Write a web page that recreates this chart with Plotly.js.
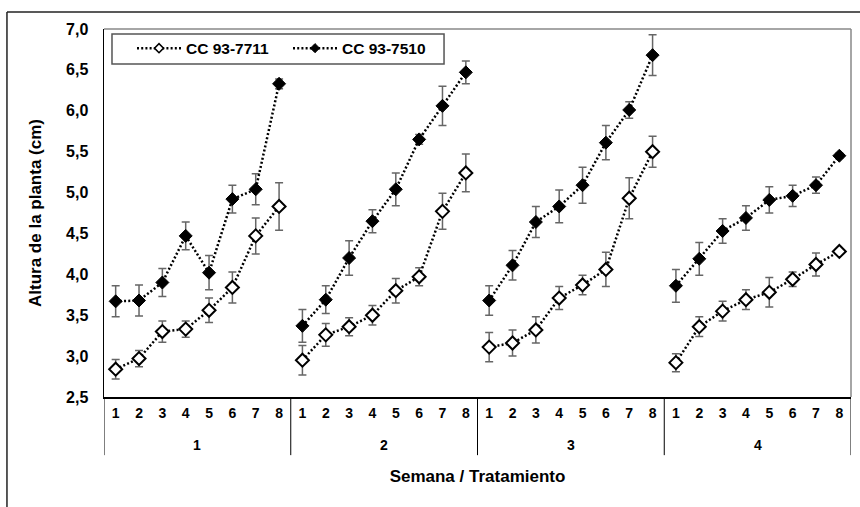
<!DOCTYPE html>
<html>
<head>
<meta charset="utf-8">
<script src="https://cdn.plot.ly/plotly-3.0.1.min.js"></script>
<style>
  html, body { margin: 0; padding: 0; background: #fff; }
  #chart { width: 860px; height: 507px; }
</style>
</head>
<body>
<div id="chart"></div>
<script>
// Categories
const semanas = ['1', '2', '3', '4'];
const tratamientos = ['1', '2', '3', '4', '5', '6', '7', '8'];

// Series names
const nombre7711 = 'CC 93-7711';
const nombre7510 = 'CC 93-7510';

// Mean plant height (cm), 8 treatments per week, weeks 1..4 in order
const cc7711 = [2.84, 2.97, 3.30, 3.33, 3.56, 3.84, 4.47, 4.83,
                2.95, 3.26, 3.36, 3.50, 3.80, 3.97, 4.77, 5.24,
                3.11, 3.16, 3.32, 3.71, 3.87, 4.06, 4.93, 5.50,
                2.92, 3.36, 3.55, 3.69, 3.78, 3.94, 4.12, 4.28];
const err7711 = [0.12, 0.10, 0.13, 0.10, 0.15, 0.19, 0.22, 0.29,
                 0.18, 0.14, 0.11, 0.12, 0.15, 0.11, 0.22, 0.23,
                 0.18, 0.16, 0.16, 0.14, 0.12, 0.21, 0.25, 0.19,
                 0.11, 0.12, 0.12, 0.12, 0.18, 0.09, 0.14, 0.03];
const cc7510 = [3.67, 3.68, 3.90, 4.47, 4.02, 4.92, 5.04, 6.33,
                3.37, 3.69, 4.20, 4.65, 5.04, 5.65, 6.06, 6.47,
                3.68, 4.11, 4.64, 4.83, 5.09, 5.61, 6.01, 6.68,
                3.86, 4.19, 4.53, 4.69, 4.91, 4.96, 5.09, 5.45];
const err7510 = [0.19, 0.19, 0.17, 0.17, 0.21, 0.17, 0.19, 0.06,
                 0.20, 0.17, 0.21, 0.14, 0.20, 0.06, 0.24, 0.14,
                 0.18, 0.18, 0.19, 0.20, 0.22, 0.21, 0.10, 0.25,
                 0.20, 0.20, 0.15, 0.15, 0.16, 0.13, 0.10, 0.03];

const FONT = 'Liberation Sans, Arial, Helvetica, sans-serif';
const dotLine = { color: '#000', width: 2.5, dash: '2px,2.2px' };
const errStyle = { type: 'data', color: '#666', thickness: 1.5, width: 4 };

const nT = tratamientos.length;
const nAll = semanas.length * nT;
// position index of every (semana, tratamiento) pair on the category axis
const posAll = [];
const tickText = [];
semanas.forEach(function (s, g) {
  tratamientos.forEach(function (t, i) { posAll.push(g * nT + i); tickText.push(t); });
});

const traces = [];
semanas.forEach(function (s, g) {
  const a = g * nT, b = a + nT;
  const xs = posAll.slice(a, b);
  traces.push({
    type: 'scatter', mode: 'lines+markers', x: xs, y: cc7711.slice(a, b),
    name: nombre7711, legendgroup: 'a', showlegend: false,
    line: dotLine,
    marker: { symbol: 'diamond', size: 10, color: '#fff', line: { color: '#000', width: 2 } },
    error_y: Object.assign({ array: err7711.slice(a, b) }, errStyle),
    hoverinfo: 'skip'
  });
  traces.push({
    type: 'scatter', mode: 'lines+markers', x: xs, y: cc7510.slice(a, b),
    name: nombre7510, legendgroup: 'b', showlegend: false,
    line: dotLine,
    marker: { symbol: 'diamond', size: 10, color: '#000', line: { color: '#000', width: 1 } },
    error_y: Object.assign({ array: err7510.slice(a, b) }, errStyle),
    hoverinfo: 'skip'
  });
});
// legend entries (no visible points)
traces.push({
  type: 'scatter', mode: 'lines+markers', x: [posAll[0]], y: [null], name: nombre7711, legendgroup: 'a',
  line: dotLine, marker: { symbol: 'diamond', size: 7, color: '#fff', line: { color: '#000', width: 1.5 } }
});
traces.push({
  type: 'scatter', mode: 'lines+markers', x: [posAll[0]], y: [null], name: nombre7510, legendgroup: 'b',
  line: dotLine, marker: { symbol: 'diamond', size: 7, color: '#000', line: { color: '#000', width: 1 } }
});

// group labels and dividers on the category axis
const annotations = semanas.map(function (s, g) {
  return {
    xref: 'x', yref: 'paper', x: g * nT + (nT - 1) / 2, y: 0, yanchor: 'middle', yshift: -48,
    text: s, showarrow: false, font: { family: FONT, size: 14, weight: 'bold', color: '#000' }
  };
});
const shapes = [];
for (let g = 0; g <= semanas.length; g++) {
  shapes.push({ type: 'line', xref: 'x', yref: 'paper', x0: g * nT - 0.5, x1: g * nT - 0.5,
    y0: 0, y1: -0.158, line: { color: '#000', width: 1 } });
}
shapes.push(
  // plot frame (top / right)
  { type: 'line', xref: 'paper', yref: 'paper', x0: 0, x1: 1, y0: 1, y1: 1, line: { color: '#888', width: 1.5 } },
  { type: 'line', xref: 'paper', yref: 'paper', x0: 1, x1: 1, y0: 0, y1: 1, line: { color: '#888', width: 1.5 } },
  // outer chart frame
  { type: 'line', xref: 'paper', yref: 'paper', x0: -0.1299, x1: 1.03, y0: 1.0462, y1: 1.0462, line: { color: '#222', width: 1.5 } },
  { type: 'line', xref: 'paper', yref: 'paper', x0: -0.1299, x1: -0.1299, y0: -0.32, y1: 1.0462, line: { color: '#222', width: 1.5 } },
  // legend box
  { type: 'rect', xref: 'paper', yref: 'paper', x0: 0.0107, x1: 0.4552, y0: 0.9049, y1: 0.9864,
    fillcolor: '#fff', line: { color: '#555', width: 1.5 }, layer: 'above' }
);

const layout = {
  width: 860, height: 507,
  margin: { l: 104, r: 9, t: 29, b: 110, pad: 0 },
  paper_bgcolor: '#fff', plot_bgcolor: '#fff',
  separators: ',.',
  font: { family: FONT, color: '#000', weight: 'bold', size: 14 },
  showlegend: true,
  legend: {
    orientation: 'h', x: 0.0375, y: 0.993, xanchor: 'left', yanchor: 'top',
    bgcolor: 'rgba(0,0,0,0)', borderwidth: 0,
    font: { family: FONT, size: 15.5, weight: 'bold', color: '#000' },
    itemwidth: 44, entrywidth: 97, traceorder: 'normal'
  },
  xaxis: {
    range: [-0.5, nAll - 0.5],
    tickmode: 'array', tickvals: posAll, ticktext: tickText,
    showline: true, linecolor: '#000', linewidth: 1.5,
    showgrid: false, zeroline: false, ticks: '',
    ticklabelstandoff: 3,
    tickfont: { family: FONT, size: 14, weight: 'bold', color: '#000' },
    title: { text: 'Semana / Tratamiento', font: { family: FONT, size: 17, weight: 'bold', color: '#000' }, standoff: 50 },
    automargin: false
  },
  yaxis: {
    range: [2.5, 7.0], dtick: 0.5, tick0: 2.5, tickformat: '.1f',
    showline: true, linecolor: '#000', linewidth: 1.5,
    showgrid: false, zeroline: false, ticks: '',
    ticklabelstandoff: 11,
    tickfont: { family: FONT, size: 16, weight: 'bold', color: '#000' },
    title: { text: 'Altura de la planta (cm)', font: { family: FONT, size: 17, weight: 'bold', color: '#000' }, standoff: 20 },
    automargin: false
  },
  annotations: annotations,
  shapes: shapes
};

Plotly.newPlot('chart', traces, layout, { staticPlot: true, displayModeBar: false });
</script>
</body>
</html>
